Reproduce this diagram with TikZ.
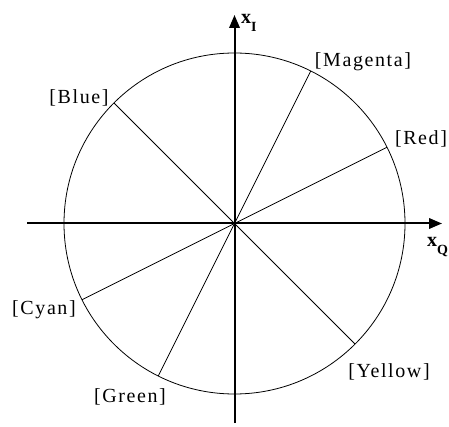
\documentclass[tikz,border=0pt]{standalone}
\usepackage{fontspec}
\setmainfont{Liberation Serif}[LetterSpace=8]
\newfontfamily\axisfont{Liberation Serif}
\usetikzlibrary{arrows.meta}
\begin{document}
\begin{tikzpicture}[x=1pt,y=-1pt,
  axis/.style={line width=2pt,-{Triangle[length=13pt,width=10.5pt]}},
  thin/.style={line width=0.8pt},
  lab/.style={inner sep=0pt,font=\fontsize{20}{20}\selectfont},
  axlab/.style={inner sep=0pt,anchor=base west}]
\useasboundingbox (0,0) rectangle (449,427);
\coordinate (O) at (234.5,223.5);
\def\R{170.5}
\coordinate (axL) at (27,223.5);
\coordinate (axR) at (442,223.5);
\coordinate (axB) at (234.5,423);
\coordinate (axT) at (234.5,15);
\draw[thin] (O) circle[radius=\R];
\draw[axis] (axL) -- (axR);
\draw[axis] (axB) -- (axT);
\coordinate (pM) at (234.5+76.25,223.5-152.5);
\coordinate (pR) at (234.5+152.5,223.5-76.25);
\coordinate (pB) at (234.5-120.56,223.5-120.56);
\coordinate (pC) at (234.5-152.5,223.5+76.25);
\coordinate (pG) at (234.5-76.25,223.5+152.5);
\coordinate (pY) at (234.5+120.56,223.5+120.56);
\foreach \p in {pM,pR,pB,pC,pG,pY} \draw[thin] (O) -- (\p);
\node[lab] (lM) at (363,62) {[Magenta]};
\node[lab] (lR) at (421,139) {[Red]};
\node[lab] (lB) at (79,98) {[Blue]};
\node[lab] (lC) at (44,310) {[Cyan]};
\node[lab] (lG) at (130,397) {[Green]};
\node[lab] (lY) at (389,372) {[Yellow]};
\node[axlab] (xI) at (241,23.5) {\axisfont\fontsize{20}{20}\selectfont\bfseries x\raisebox{-8pt}{\fontsize{14}{14}\selectfont I}};
\node[axlab] (xQ) at (427,247) {\axisfont\fontsize{20}{20}\selectfont\bfseries x\raisebox{-8pt}{\fontsize{14}{14}\selectfont Q}};
\end{tikzpicture}
\end{document}
